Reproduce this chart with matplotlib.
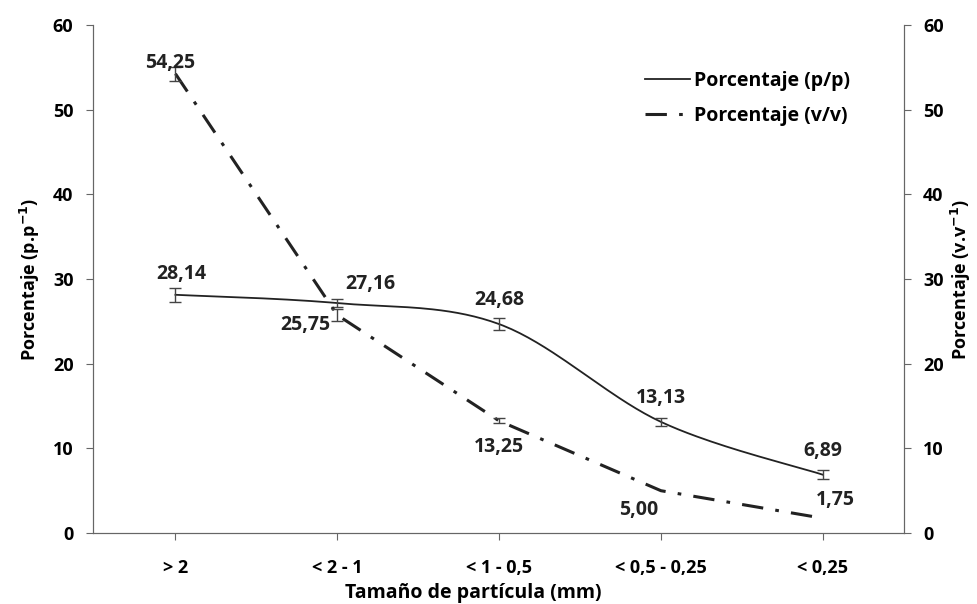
import matplotlib.pyplot as plt
import numpy as np

categorias = ['> 2', '< 2 - 1', '< 1 - 0,5', '< 0,5 - 0,25', '< 0,25']
pp = [28.14, 27.16, 24.68, 13.13, 6.89]
pp_err = [0.8, 0.5, 0.7, 0.5, 0.5]
vv = [54.25, 25.75, 13.25, 5.00, 1.75]
vv_err = [0.8, 0.7, 0.3, 0, 0]
pp_txt = ['28,14', '27,16', '24,68', '13,13', '6,89']
vv_txt = ['54,25', '25,75', '13,25', '5,00', '1,75']

plt.rcParams['font.family'] = ['Open Sans', 'DejaVu Sans']
plt.rcParams['font.weight'] = 'bold'
plt.rcParams['axes.labelweight'] = 'bold'
plt.rcParams['mathtext.default'] = 'bf'


# curva suavizada tipo Excel (bezier con puntos de control de los vecinos)
def suavizar(x, y, n=40):
    x = np.asarray(x, float)
    y = np.asarray(y, float)
    px = np.concatenate([[x[0]], x, [x[-1]]])
    py = np.concatenate([[y[0]], y, [y[-1]]])
    xs, ys = [], []
    for i in range(len(x) - 1):
        p0 = np.array([px[i + 1], py[i + 1]])
        p3 = np.array([px[i + 2], py[i + 2]])
        c1 = p0 + (p3 - np.array([px[i], py[i]])) / 6
        c2 = p3 - (np.array([px[i + 3], py[i + 3]]) - p0) / 6
        t = np.linspace(0, 1, n)[:, None]
        b = (1 - t)**3 * p0 + 3 * (1 - t)**2 * t * c1 + 3 * (1 - t) * t**2 * c2 + t**3 * p3
        xs.extend(b[:, 0])
        ys.extend(b[:, 1])
    return xs, ys


x = np.arange(len(categorias))
fig = plt.figure(figsize=(9.78, 6.04), dpi=100)
ax = fig.add_axes([0.095, 0.1175, 0.829, 0.841])
ax2 = ax.twinx()

sx, sy = suavizar(x, pp)
l1, = ax.plot(sx, sy, color='#222222', lw=1.3, label='Porcentaje (p/p)')
ax.errorbar(x, pp, yerr=pp_err, fmt='none', ecolor='#444444', elinewidth=1, capsize=4)

l2, = ax2.plot(x, vv, color='#222222', lw=2.2, linestyle=(0, (7, 4, 1.2, 4)), label='Porcentaje (v/v)')
m = np.array(vv_err) > 0
ax2.errorbar(x[m], np.array(vv)[m], yerr=np.array(vv_err)[m], fmt='none', ecolor='#444444',
             elinewidth=1, capsize=4)

for a in (ax, ax2):
    a.set_xlim(-0.51, 4.5)
    a.set_ylim(0, 60)
    a.set_yticks(range(0, 61, 10))
    a.tick_params(labelsize=13, length=5, color='#666666')
    a.tick_params(axis='y', pad=9)
    a.tick_params(axis='x', pad=14)
    for s in a.spines.values():
        s.set_color('#666666')
    a.spines['top'].set_visible(False)

ax.set_xticks(x)
ax.set_xticklabels(categorias)
for a in (ax, ax2):
    for t in a.get_xticklabels() + a.get_yticklabels():
        t.set_fontweight('bold')
ax.set_ylabel('Porcentaje (p.p$^{-1}$)', fontsize=13, labelpad=8)
ax2.set_ylabel('Porcentaje (v.v$^{-1}$)', fontsize=13, labelpad=4)
ax.set_xlabel('Tamaño de partícula (mm)', fontsize=14, labelpad=4)
ax.xaxis.set_label_coords(0.469, -0.098)

# etiquetas de datos
off_pp = [(4, 15), (24, 14), (0, 17), (0, 17), (0, 17)]
off_vv = [(-4, 8), (-23, -7), (0, -19), (-16, -14), (9, 13)]
for i in range(len(x)):
    ax.annotate(pp_txt[i], (x[i], pp[i]), xytext=off_pp[i], textcoords='offset points',
                ha='center', va='center', fontsize=14, fontweight='bold', color='#222222')
    ax2.annotate(vv_txt[i], (x[i], vv[i]), xytext=off_vv[i], textcoords='offset points',
                 ha='center', va='center', fontsize=14, fontweight='bold', color='#222222')

ax2.legend(handles=[l1, l2], loc='upper right', bbox_to_anchor=(0.955, 0.945), frameon=False,
           handlelength=2.3, handletextpad=0.2, labelspacing=0.8,
           prop={'weight': 'bold', 'size': 14})

fig.savefig('out.png', dpi=100)
